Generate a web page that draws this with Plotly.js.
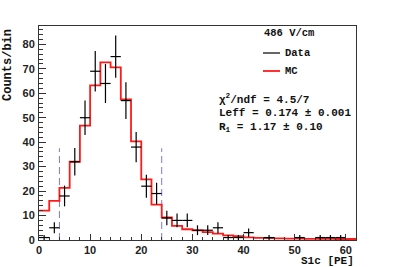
<!DOCTYPE html>
<html><head><meta charset="utf-8">
<script src="https://cdn.plot.ly/plotly-3.0.1.min.js"></script>
<style>html,body{margin:0;padding:0;background:#fff}#chart{width:395px;height:267px}</style>
</head><body><div id="chart"></div>
<script>
// ---- data ----
const binCenters = [1,3,5,7,9,11,13,15,17,19,21,23,25,27,29,31,33,35,37,39,41,43,45,47,49,51,53,55,57,59,61];
const binHalfWidth = 1;
const dataCounts = [1,5,18,32,50,69,64,75,57,38,22,19,9,8,8,4,4,5,1,1,3,null,1,null,null,1,null,1,1,1,null];
const dataErrors = [1,2.24,4.24,5.66,7.07,8.31,8,8.66,7.55,6.16,4.69,4.36,3,2.83,2.83,2,2,2.24,1,1,1.73,null,1,null,null,1,null,1,1,1,null];
const mcCounts = [12,16,21.3,32,46.8,63.2,72.6,70.6,57.5,40.3,24.8,14.5,9.2,5.8,4.4,3.9,3.2,2.6,1.9,1.6,1.1,0.9,0.8,0.7,0.6,0.6,0.5,0.5,0.5,0.4,0.4];
const cutPositions = [4, 24];
const cutHeight = 37.5;
const infoLines = ["486 V/cm", "Data", "MC", "\u03c7<sup>2</sup>/ndf = 4.5/7", "Leff = 0.174 \u00b1 0.001", "R<sub>1</sub> = 1.17 \u00b1 0.10"];

// ---- traces ----
const stepX = binCenters.map(c => c - binHalfWidth).concat([binCenters[binCenters.length-1] + binHalfWidth]);
const stepY = mcCounts.concat([mcCounts[mcCounts.length-1]]);

const traces = [];
cutPositions.forEach(c => traces.push({
  x: [c, c], y: [0, cutHeight], mode: 'lines', type: 'scatter',
  line: {color: '#7878f0', width: 1, dash: '7px,4px'}, hoverinfo: 'skip'
}));
traces.push({
  x: stepX, y: stepY, mode: 'lines', type: 'scatter',
  line: {color: '#ff1a1a', width: 1.8, shape: 'hv'}
});
traces.push({
  x: binCenters, y: dataCounts, mode: 'markers', type: 'scatter',
  marker: {size: 1, color: 'black'},
  error_x: {type: 'constant', value: binHalfWidth, width: 0, thickness: 1.2, color: 'black'},
  error_y: {type: 'data', array: dataErrors, width: 0, thickness: 1.2, color: 'black'}
});

const L = 39, R = 356, T = 26, B = 240;
const px = v => (v - L) / (R - L);
const py = v => (B - v) / (B - T);
const monoFam = 'Liberation Mono, Courier New, monospace';
const mono = {family: monoFam, size: 10.5, color: '#111', weight: 'bold'};
const monoL = {family: monoFam, size: 11, color: '#111', weight: 'bold'};
const sans = {family: 'Liberation Sans, Arial, sans-serif', size: 11, color: '#222', weight: 'bold'};

const axisCommon = {
  ticks: 'inside', tickcolor: '#333', tickwidth: 1,
  showline: true, mirror: true, linecolor: '#333', linewidth: 1,
  showgrid: false, zeroline: false, tickfont: sans, fixedrange: true
};

const layout = {
  width: 395, height: 267,
  margin: {l: L, r: 395 - R, t: T, b: 267 - B},
  paper_bgcolor: '#fff', plot_bgcolor: '#fff',
  showlegend: false,
  xaxis: Object.assign({}, axisCommon, {range: [0, 62], tick0: 0, dtick: 10, ticklen: 6,
    minor: {dtick: 2, ticks: 'inside', ticklen: 3, tickcolor: '#333'}, ticklabelstandoff: 0}),
  yaxis: Object.assign({}, axisCommon, {range: [0, 87.5], tick0: 0, dtick: 10, ticklen: 7,
    minor: {dtick: 2, ticks: 'inside', ticklen: 4, tickcolor: '#333'}, ticklabelstandoff: 1}),
  shapes: [
    {type: 'line', xref: 'paper', yref: 'paper', x0: px(263), x1: px(280), y0: py(53), y1: py(53), line: {color: '#000', width: 1.2}},
    {type: 'line', xref: 'paper', yref: 'paper', x0: px(263), x1: px(280), y0: py(71), y1: py(71), line: {color: '#ff1a1a', width: 1.8}}
  ],
  annotations: [
    {text: 'S1c [PE]', xref: 'paper', yref: 'paper', x: 1, y: py(261), xanchor: 'right', yanchor: 'middle', showarrow: false, font: {family: monoFam, size: 11, color: '#111', weight: 'bold'}},
    {text: 'Counts/bin', xref: 'paper', yref: 'paper', x: px(8), y: py(27), xanchor: 'center', yanchor: 'top', textangle: -90, showarrow: false, font: {family: monoFam, size: 12, color: '#111', weight: 'bold'}},
    {text: infoLines[0], xref: 'paper', yref: 'paper', x: px(289), y: py(33), xanchor: 'center', yanchor: 'middle', showarrow: false, font: mono},
    {text: infoLines[1], xref: 'paper', yref: 'paper', x: px(283), y: py(53), xanchor: 'left', yanchor: 'middle', showarrow: false, font: mono},
    {text: infoLines[2], xref: 'paper', yref: 'paper', x: px(283), y: py(71), xanchor: 'left', yanchor: 'middle', showarrow: false, font: mono},
    {text: infoLines[3], xref: 'paper', yref: 'paper', x: px(217), y: py(99), xanchor: 'left', yanchor: 'middle', showarrow: false, font: monoL},
    {text: infoLines[4], xref: 'paper', yref: 'paper', x: px(217), y: py(113), xanchor: 'left', yanchor: 'middle', showarrow: false, font: monoL},
    {text: infoLines[5], xref: 'paper', yref: 'paper', x: px(217), y: py(127), xanchor: 'left', yanchor: 'middle', showarrow: false, font: monoL}
  ]
};

Plotly.newPlot('chart', traces, layout, {staticPlot: true, displayModeBar: false});
</script>
</body></html>
